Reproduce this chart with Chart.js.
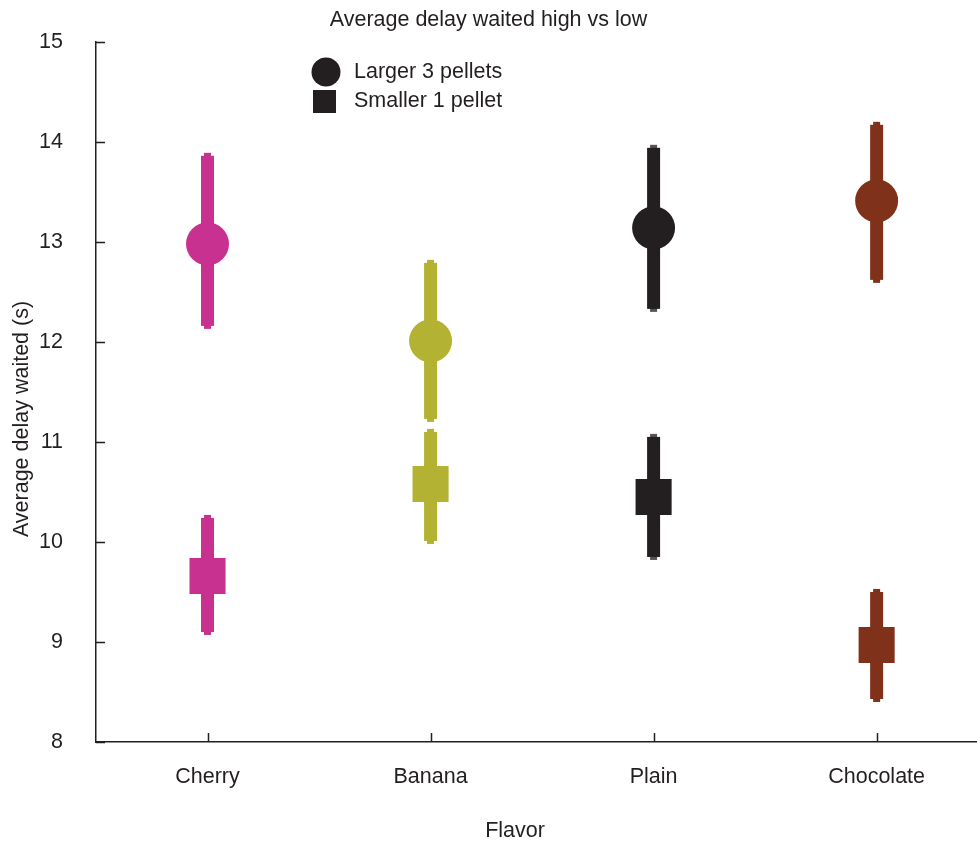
<!DOCTYPE html>
<html>
<head>
<meta charset="utf-8">
<script src="https://cdn.jsdelivr.net/npm/chart.js@4"></script>
<style>
  html, body { margin: 0; padding: 0; background: #fff; overflow: hidden; }
  #wrap { width: 977px; height: 848px; }
</style>
</head>
<body>
<div id="wrap"><canvas id="delayChart"></canvas></div>
<script>
// ===== Data =====
const flavors = ["Cherry", "Banana", "Plain", "Chocolate"];
const largerMean = [12.98, 12.01, 13.14, 13.41];
const largerLow = [12.13, 11.20, 12.30, 12.59];
const largerHigh = [13.89, 12.82, 13.97, 14.20];
const smallerMean = [9.66, 10.58, 10.45, 8.97];
const smallerLow = [9.07, 9.98, 9.82, 8.40];
const smallerHigh = [10.27, 11.13, 11.08, 9.53];
const yTicks = [8, 9, 10, 11, 12, 13, 14, 15];

// colours per flavour
const flavorColors = ["#c8318f", "#b3b233", "#231f20", "#80311a"];
const capColors = ["#c8318f", "#b3b233", "#555555", "#80311a"];

const FONT = "'Liberation Sans', Arial, sans-serif";
const FSIZE = 21.5;
const TEXT = "#231f20";

// ===== Plugins =====

// thick error bars with a narrow nub at each end
const errorBars = {
  id: "errorBars",
  beforeDatasetsDraw(chart) {
    const { ctx, scales: { x, y } } = chart;
    const groups = [[largerLow, largerHigh], [smallerLow, smallerHigh]];
    ctx.save();
    groups.forEach(([lows, highs]) => {
      flavors.forEach((f, i) => {
        const px = x.getPixelForValue(i + 1);
        const top = y.getPixelForValue(highs[i]);
        const bot = y.getPixelForValue(lows[i]);
        ctx.fillStyle = capColors[i];
        ctx.fillRect(px - 3.5, top, 7, bot - top);
        ctx.fillStyle = flavorColors[i];
        ctx.fillRect(px - 6.5, top + 3, 13, bot - top - 6);
      });
    });
    ctx.restore();
  }
};

// inward tick marks, axis titles, legend inside the plot
const decorations = {
  id: "decorations",
  afterDraw(chart) {
    const { ctx, scales: { x, y } } = chart;
    ctx.save();
    ctx.strokeStyle = TEXT;
    ctx.lineWidth = 1.5;
    ctx.beginPath();
    yTicks.forEach(v => {
      const py = Math.round(y.getPixelForValue(v)) + 0.5;
      ctx.moveTo(x.left, py);
      ctx.lineTo(x.left + 9, py);
    });
    flavors.forEach((f, i) => {
      const px = Math.round(x.getPixelForValue(i + 1)) + 0.5;
      ctx.moveTo(px, y.bottom);
      ctx.lineTo(px, y.bottom - 9);
    });
    ctx.stroke();

    ctx.fillStyle = TEXT;
    ctx.font = FSIZE + "px " + FONT;
    ctx.textBaseline = "middle";

    // axis titles
    ctx.textAlign = "center";
    ctx.fillText("Flavor", 515, 831);
    ctx.save();
    ctx.translate(22, 419);
    ctx.rotate(-Math.PI / 2);
    ctx.fillText("Average delay waited (s)", 0, 0);
    ctx.restore();

    // legend
    ctx.beginPath();
    ctx.arc(326, 72, 14.5, 0, Math.PI * 2);
    ctx.fill();
    ctx.fillRect(313, 90, 23, 23);
    ctx.textAlign = "left";
    ctx.fillText("Larger 3 pellets", 354, 72);
    ctx.fillText("Smaller 1 pellet", 354, 101);
    ctx.restore();
  }
};

// ===== Chart =====
const ctx = document.getElementById("delayChart").getContext("2d");
const delayChart = new Chart(ctx, {
  type: "scatter",
  data: {
    datasets: [
      {
        label: "Larger 3 pellets",
        data: largerMean.map((v, i) => ({ x: i + 1, y: v })),
        pointStyle: "circle",
        pointRadius: 21.5,
        pointHoverRadius: 21.5,
        backgroundColor: flavorColors,
        borderWidth: 0
      },
      {
        label: "Smaller 1 pellet",
        data: smallerMean.map((v, i) => ({ x: i + 1, y: v })),
        pointStyle: "rect",
        pointRadius: 25.5,
        pointHoverRadius: 25.5,
        backgroundColor: flavorColors,
        borderWidth: 0
      }
    ]
  },
  options: {
    responsive: true,
    maintainAspectRatio: false,
    animation: false,
    layout: { padding: 0, autoPadding: false },
    plugins: {
      legend: { display: false },
      tooltip: { enabled: false },
      title: {
        display: true,
        text: "Average delay waited high vs low",
        color: TEXT,
        font: { family: FONT, size: FSIZE, weight: "normal" },
        padding: { top: 7, bottom: 9 }
      }
    },
    scales: {
      x: {
        type: "linear",
        min: 0.5,
        max: 4.45,
        afterBuildTicks: axis => { axis.ticks = flavors.map((f, i) => ({ value: i + 1 })); },
        afterFit: axis => {
          axis.height = 106;
          axis.paddingLeft = 0;
          axis.paddingRight = 0;
        },
        grid: { display: false, drawTicks: false },
        border: { display: true, color: TEXT, width: 1.5 },
        ticks: {
          color: TEXT,
          font: { family: FONT, size: FSIZE },
          padding: 22,
          autoSkip: false,
          maxRotation: 0,
          callback: v => flavors[v - 1] || ""
        }
      },
      y: {
        min: 8,
        max: 15,
        afterBuildTicks: axis => { axis.ticks = yTicks.map(v => ({ value: v })); },
        afterFit: axis => {
          axis.width = 96;
          axis.paddingTop = 0;
          axis.paddingBottom = 0;
        },
        grid: { display: false, drawTicks: false },
        border: { display: true, color: TEXT, width: 1.5 },
        ticks: {
          color: TEXT,
          font: { family: FONT, size: FSIZE },
          padding: 33
        }
      }
    }
  },
  plugins: [errorBars, decorations]
});
</script>
</body>
</html>
